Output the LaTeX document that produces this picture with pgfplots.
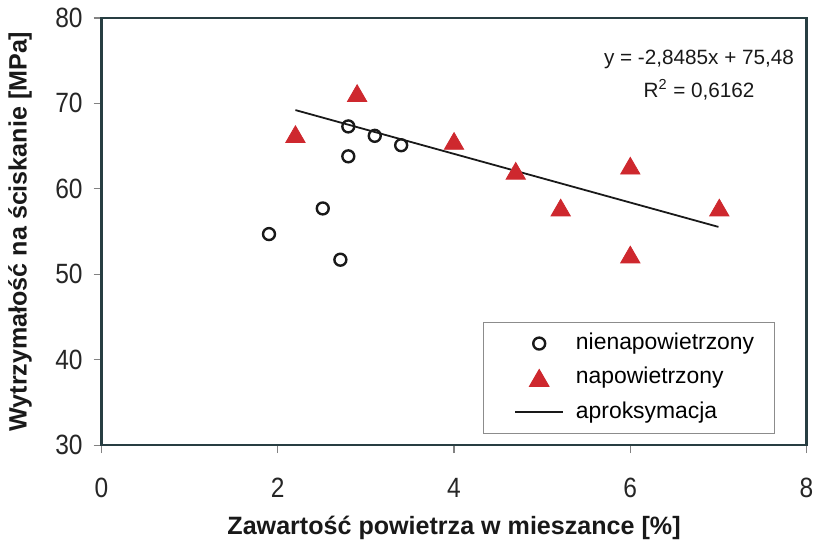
\documentclass[border=0pt]{standalone}
\usepackage{fontspec}
\setmainfont{Liberation Sans}
\usepackage{graphicx}
\usepackage{pgfplots}
\pgfplotsset{compat=1.18}
\definecolor{axcol}{RGB}{40,62,66}
\definecolor{tickcol}{RGB}{130,130,130}
\definecolor{tri}{RGB}{206,40,46}
\definecolor{circ}{RGB}{25,25,25}
\pgfplotsset{
  markleg/.style={legend image code/.code={\path[draw=none,fill=none] (-6pt,-3pt) rectangle (24pt,3pt); \draw[##1] plot coordinates {(12pt,0pt)};}},
  lineleg/.style={legend image code/.code={\path[draw=none,fill=none] (-6pt,-3pt) rectangle (24pt,3pt); \draw[##1] (0pt,0pt) -- (24pt,0pt);}},
}
\begin{document}
\begin{tikzpicture}
\begin{axis}[
  scale only axis, width=354pt, height=214.5pt,
  xmin=0, xmax=8, ymin=30, ymax=80,
  xtick={0,2,4,6,8}, ytick={30,40,50,60,70,80},
  axis line style={axcol, line width=1.4pt},
  tick style={tickcol, line width=0.6pt},
  tick align=outside, major tick length=4pt, tick pos=left,
  /pgf/number format/assume math mode=true,
  tick label style={font=\fontsize{14}{16}\selectfont, text=black!85},
  xticklabel={\scalebox{0.88}[1]{\pgfmathprintnumber{\tick}}},
  yticklabel={\scalebox{0.88}[1]{\pgfmathprintnumber{\tick}}},
  xticklabel style={yshift=-9pt},
  yticklabel style={xshift=-2pt},
  xlabel={Zawartość powietrza w mieszance [\%]},
  ylabel={Wytrzymałość na ściskanie [MPa]},
  label style={font=\bfseries\fontsize{12.6}{15}\selectfont, text=black!90},
  xlabel style={at={(axis description cs:0.5,-0.1935)}, anchor=center},
  ylabel style={at={(axis description cs:-0.1158,0.5)}, anchor=center},
  clip=false,
  legend cell align=left,
  legend style={at={(axis description cs:0.541,0.289)}, anchor=north west,
    draw=black!45, line width=0.5pt, fill=white,
    inner xsep=10pt, inner ysep=4.75pt,
    row sep=5.25pt, column sep=6pt,
    nodes={inner sep=0pt, text height=9pt, text depth=3pt},
    font=\fontsize{11.5}{13}\selectfont},
]
\addplot[only marks, mark=o, mark size=3pt, mark options={circ, line width=1.2pt}, markleg]
  coordinates {(1.90,54.7) (2.51,57.7) (2.71,51.7) (2.80,63.8) (2.80,67.3) (3.10,66.2) (3.40,65.1)};
\addlegendentry{nienapowietrzony}
\addplot[only marks, mark=triangle*, mark size=5.6pt, mark options={tri, draw=tri, yshift=-1.4pt}, markleg]
  coordinates {(2.20,66.4) (2.90,71.2) (4.00,65.6) (4.70,62.1) (5.21,57.8) (6.00,62.7) (6.00,52.3) (7.01,57.8)};
\addlegendentry{napowietrzony}
\addplot[no marks, color=black!90, line width=0.9pt, lineleg]
  coordinates {(2.2,69.213) (7.0,55.541)};
\addlegendentry{aproksymacja}
\node[font=\fontsize{10.4}{12}\selectfont, text=black!90] at (axis cs:6.78,75.1) {y = -2,8485x + 75,48};
\node[font=\fontsize{10.4}{12}\selectfont, text=black!90] at (axis cs:6.78,71.6) {R\textsuperscript{2} = 0,6162};
\end{axis}
\path (current axis.south west) ++(-51pt,-52pt) rectangle ++(410pt,275.5pt);
\end{tikzpicture}
\end{document}
